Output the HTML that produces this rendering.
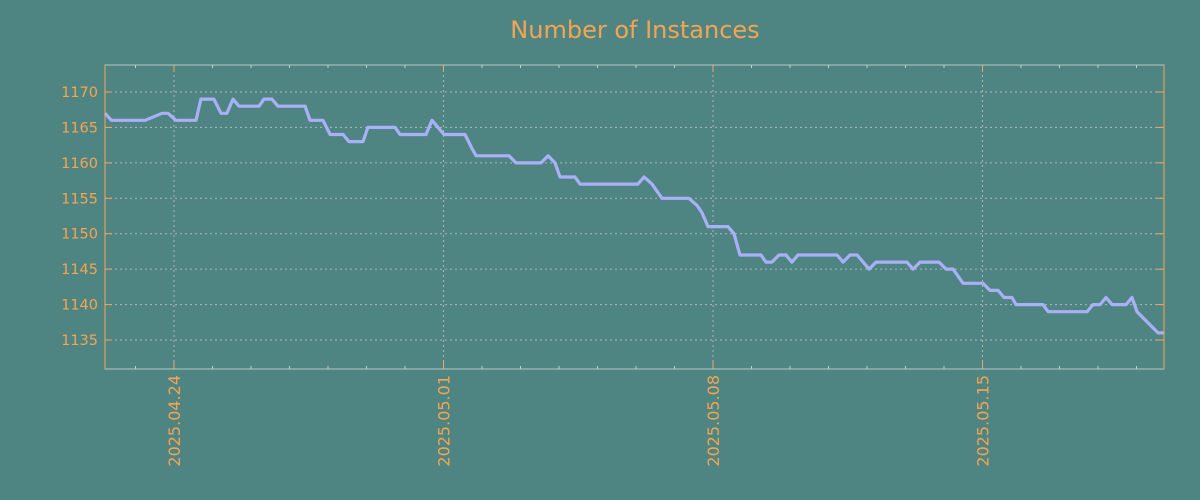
<!DOCTYPE html>
<html><head><meta charset="utf-8"><style>
html,body{margin:0;padding:0;background:#4e8582;}
svg{display:block;font-family:"DejaVu Sans","Liberation Sans",sans-serif;}
</style></head><body>
<svg id="chart" width="1200" height="500">
<rect width="1200" height="500" fill="#4e8582"/>
<text x="635" y="38" text-anchor="middle" font-size="24" fill="#f5a552">Number of Instances</text>
<g id="grid"></g>
<g id="axes"></g>
<path id="series" fill="none" stroke="#aab0f8" stroke-width="3.2" stroke-linejoin="round"/>
<rect x="105" y="65" width="1059" height="304" fill="none" stroke="#b8c8c4" stroke-width="1"/>
<line x1="105" y1="65" x2="105" y2="369" stroke="#f5a552"/>
<line x1="1164" y1="65" x2="1164" y2="369" stroke="#f5a552"/>
</svg>
<script>
// hours since 2025-04-24 00:00
const hours = [-43,-39,-18,-7.5,-3.7,1.2,13.7,16.8,24.9,29.3,33,36.8,40.5,53,56.1,61.1,64.8,81.7,84.8,92.9,97.3,105.4,109.1,117.8,120.9,137.8,140.9,157.1,160.8,168.3,181.4,185.8,188.3,208.8,213.2,228.8,233.2,237.5,240.6,250,253.1,289.2,293,298,304.2,321,326,329.1,332.9,345.3,349.1,352.8,365.9,369,372.8,377.1,381.5,385.2,389,413.3,417.1,421.4,425.8,433.3,437.6,456.9,460.7,465.1,476.9,481.3,485.6,491.9,504.3,508.7,513.7,517.4,522.4,524.9,541.7,544.9,569.2,572.9,577.3,581,584.8,593.5,597.2,600.3,613.4,617.2];
const values = [1167,1166,1166,1167,1167,1166,1166,1169,1169,1167,1167,1169,1168,1168,1169,1169,1168,1168,1166,1166,1164,1164,1163,1163,1165,1165,1164,1164,1166,1164,1164,1162,1161,1161,1160,1160,1161,1160,1158,1158,1157,1157,1158,1157,1155,1155,1154,1153,1151,1151,1150,1147,1147,1146,1146,1147,1147,1146,1147,1147,1146,1147,1147,1145,1146,1146,1145,1146,1146,1145,1145,1143,1143,1142,1142,1141,1141,1140,1140,1139,1139,1140,1140,1141,1140,1140,1141,1139,1136,1136];
const yTicks = [1135,1140,1145,1150,1155,1160,1165,1170];
const xTickLabels = ["2025.04.24","2025.05.01","2025.05.08","2025.05.15"];
const xTickHours = [0,168,336,504];

const X0=105,X1=1164,Y0=65,Y1=369;
const x = h => 174 + h*(38.5/24);
const y = v => 92 + (1170-v)*(248/35);
const NS='http://www.w3.org/2000/svg';
const grid=document.getElementById('grid'), axes=document.getElementById('axes');
function mk(tag,attrs,parent){const e=document.createElementNS(NS,tag);for(const k in attrs)e.setAttribute(k,attrs[k]);parent.appendChild(e);return e;}
yTicks.forEach(v=>{
  const yy=y(v);
  const g=mk('line',{x1:X0,x2:X1,y1:yy,y2:yy,stroke:'#b0b8b4','stroke-dasharray':'2,3','stroke-width':1},grid);
  
  
  const t1=mk('line',{x1:X0,x2:X0+7,y1:yy,y2:yy,stroke:'#f5a552'},axes);
  
  
  const t2=mk('line',{x1:X1-7,x2:X1,y1:yy,y2:yy,stroke:'#f5a552'},axes);
  
  
  const l=mk('text',{x:X0-7,y:yy+5,'text-anchor':'end','font-size':14.5,fill:'#f5a552'},axes);
  l.textContent=v;
  
  
});
for(let d=-1;d<=25;d++){
  const xx=x(d*24); if(xx<X0||xx>X1) continue;
  const m=mk('line',{x1:xx,x2:xx,y1:Y1-3,y2:Y1,stroke:'#c8d0cc'},axes);
  
  
  const m2=mk('line',{x1:xx,x2:xx,y1:Y0,y2:Y0+3,stroke:'#c8d0cc'},axes);
  
  
}
xTickHours.forEach((h,i)=>{
  const xx=x(h);
  const g=mk('line',{x1:xx,x2:xx,y1:Y0,y2:Y1,stroke:'#b0b8b4','stroke-dasharray':'2,3'},grid);
  
  
  const t=mk('line',{x1:xx,x2:xx,y1:Y1-7,y2:Y1,stroke:'#f5a552'},axes);
  
  
  const t2=mk('line',{x1:xx,x2:xx,y1:Y0,y2:Y0+7,stroke:'#f5a552'},axes);
  
  
  const l=mk('text',{x:0,y:0,'text-anchor':'end','font-size':16,fill:'#f5a552',transform:`translate(${xx+6},${Y1+6}) rotate(-90)`},axes);
  l.textContent=xTickLabels[i];
  
  
});
let d='';
hours.forEach((h,i)=>{d+=(i?'L':'M')+x(h).toFixed(1)+','+y(values[i]).toFixed(1);});
document.getElementById('series').setAttribute('d',d);
</script>
</body></html>
